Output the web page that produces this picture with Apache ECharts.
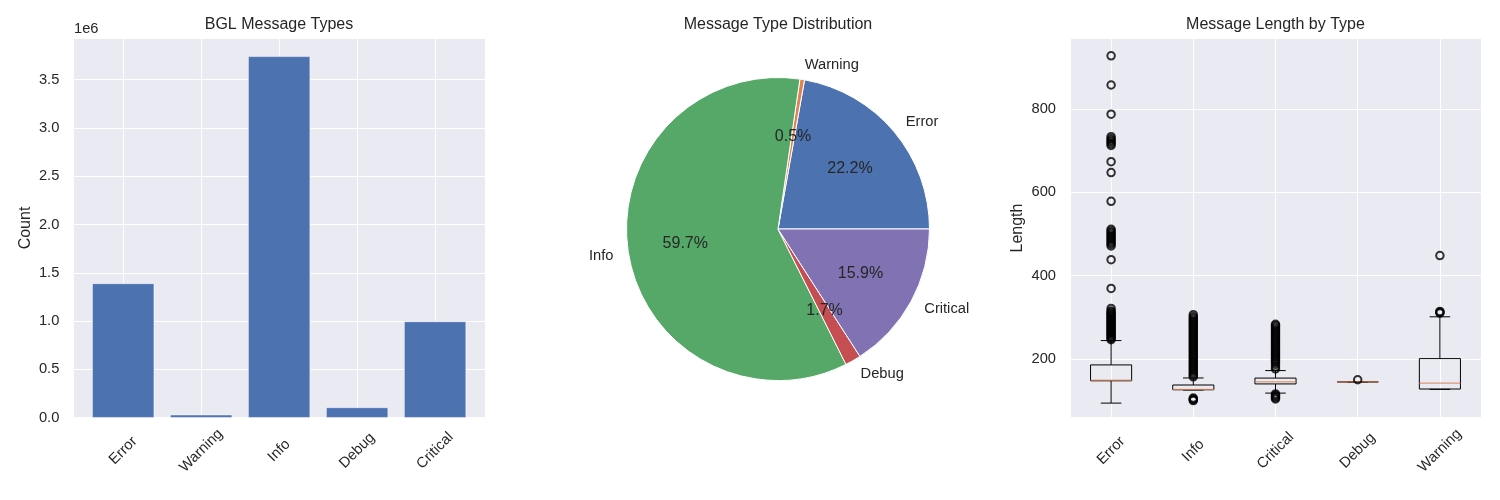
<!DOCTYPE html>
<html>
<head>
<meta charset="utf-8">
<title>BGL message overview</title>
<script src="https://cdn.jsdelivr.net/npm/echarts@6/dist/echarts.min.js"></script>
<style>
  html, body { margin: 0; padding: 0; background: #fff; }
  #chart { width: 1500px; height: 500px; }
</style>
</head>
<body>
<div id="chart"></div>
<script>
// message counts (bar + pie)
var barCats = ["Error", "Warning", "Info", "Debug", "Critical"];
var barCounts = [1390000, 31000, 3740000, 106000, 996000];
var pieColors = ["#4C72B0", "#DD8452", "#55A868", "#C44E52", "#8172B3"];

// message length stats (box plot)
var boxCats = ["Error", "Info", "Critical", "Debug", "Warning"];
var boxMin = [94, 125.4, 118, 145, 127];
var boxQ1 = [147.5, 126, 140, 145, 127.8];
var boxMed = [149, 127, 145, 145, 142];
var boxQ3 = [185.6, 137.4, 154, 145, 200.7];
var boxMax = [244, 154.3, 172, 145, 301];

var errorOutliers = [246, 249, 252, 255, 258, 261, 264, 267, 270, 273, 276, 279, 282, 285, 288, 291, 294, 297, 300, 303, 306, 309, 312, 315, 321, 369, 438, 471, 475, 479, 483, 487, 491, 495, 499, 503, 507, 511, 578, 647, 673, 712, 716, 720, 724, 728, 733, 787, 857, 927];
var infoOutliers = [100, 102, 104, 106, 157, 161, 165, 169, 173, 177, 181, 185, 189, 193, 197, 201, 205, 209, 213, 217, 221, 225, 229, 233, 237, 241, 245, 249, 253, 257, 261, 265, 269, 273, 277, 281, 285, 289, 293, 297, 301, 306];
var criticalOutliers = [104, 107, 110, 113, 116, 176, 181, 187, 192, 196, 200, 204, 208, 212, 216, 220, 224, 228, 232, 236, 240, 244, 248, 252, 256, 260, 264, 268, 272, 276, 280, 283];
var debugOutliers = [150];
var warningOutliers = [310, 312, 314, 448];
var boxOutliers = [errorOutliers, infoOutliers, criticalOutliers, debugOutliers, warningOutliers];

var FONT = "Liberation Sans";
var TXT = "#262626";
var BG = "#EAEAF2";

var myChart = echarts.init(document.getElementById("chart"));

var barData = barCounts.map(function (v, i) { return [i, v]; });
var pieData = barCats.map(function (c, i) {
  return { name: c, value: barCounts[i], itemStyle: { color: pieColors[i] } };
});
// same values, no colour: only carries the percent labels at 0.6 r
var pctData = barCats.map(function (c, i) {
  return { name: c, value: barCounts[i] };
});
var boxData = boxCats.map(function (c, i) {
  return [i + 1, boxMin[i], boxQ1[i], boxMed[i], boxQ3[i], boxMax[i]];
});
var outlierData = [];
boxOutliers.forEach(function (arr, i) {
  arr.forEach(function (v) { outlierData.push([i + 1, v]); });
});

function renderBox(params, api) {
  var x = api.value(0);
  var lo = api.coord([x, api.value(1)]);
  var q1 = api.coord([x, api.value(2)]);
  var med = api.coord([x, api.value(3)]);
  var q3 = api.coord([x, api.value(4)]);
  var hi = api.coord([x, api.value(5)]);
  var unit = api.size([1, 0])[0];
  var hw = unit * 0.25;
  var cw = unit * 0.125;
  var cx = lo[0];
  var ln = { stroke: "#000", lineWidth: 1 };
  return {
    type: "group",
    children: [
      { type: "line", shape: { x1: cx, y1: lo[1], x2: cx, y2: q1[1] }, style: ln },
      { type: "line", shape: { x1: cx, y1: q3[1], x2: cx, y2: hi[1] }, style: ln },
      { type: "line", shape: { x1: cx - cw, y1: lo[1], x2: cx + cw, y2: lo[1] }, style: ln },
      { type: "line", shape: { x1: cx - cw, y1: hi[1], x2: cx + cw, y2: hi[1] }, style: ln },
      { type: "rect", shape: { x: cx - hw, y: q3[1], width: hw * 2, height: q1[1] - q3[1] },
        style: { fill: "none", stroke: "#000", lineWidth: 1 } },
      { type: "line", shape: { x1: cx - hw, y1: med[1], x2: cx + hw, y2: med[1] },
        style: { stroke: "#DD8452", lineWidth: 1 } }
    ]
  };
}

var splitWhite = { show: true, lineStyle: { color: "#fff", width: 1 } };
var tickText = { color: TXT, fontSize: 14.7, fontFamily: FONT };

var option = {
  animation: false,
  textStyle: { fontFamily: FONT, color: TXT },
  graphic: [
    { type: "text", x: 279, y: 25, style: { text: "BGL Message Types", align: "center", verticalAlign: "middle", fontSize: 16, fontFamily: FONT, fill: TXT } },
    { type: "text", x: 74, y: 29, style: { text: "1e6", align: "left", verticalAlign: "middle", fontSize: 14.7, fontFamily: FONT, fill: TXT } },
    { type: "text", x: 778, y: 25, style: { text: "Message Type Distribution", align: "center", verticalAlign: "middle", fontSize: 16, fontFamily: FONT, fill: TXT } },
    { type: "text", x: 1275.5, y: 25, style: { text: "Message Length by Type", align: "center", verticalAlign: "middle", fontSize: 16, fontFamily: FONT, fill: TXT } }
  ],
  grid: [
    { left: 73.3, top: 38.3, width: 411.7, height: 379.4, show: true, backgroundColor: BG, borderWidth: 0 },
    { left: 1070, top: 38.3, width: 411, height: 379.4, show: true, backgroundColor: BG, borderWidth: 0 }
  ],
  xAxis: [
    {
      gridIndex: 0, type: "value", min: -0.64, max: 4.64, splitNumber: 5,
      axisLine: { show: false }, axisTick: { show: false }, splitLine: splitWhite,
      axisLabel: Object.assign({
        rotate: 45, align: "center", verticalAlign: "middle", margin: 33,
        formatter: function (v) { return Number.isInteger(v) ? barCats[v] : ""; }
      }, tickText)
    },
    {
      gridIndex: 1, type: "value", min: 0.5, max: 5.5, splitNumber: 5,
      axisLine: { show: false }, axisTick: { show: false }, splitLine: splitWhite,
      axisLabel: Object.assign({
        rotate: 45, align: "center", verticalAlign: "middle", margin: 33,
        formatter: function (v) { return Number.isInteger(v) ? boxCats[v - 1] : ""; }
      }, tickText)
    }
  ],
  yAxis: [
    {
      gridIndex: 0, type: "value", min: 0, max: 3927000, interval: 500000,
      name: "Count", nameLocation: "middle", nameGap: 40,
      nameTextStyle: { fontSize: 16, color: TXT, fontFamily: FONT },
      axisLine: { show: false }, axisTick: { show: false }, splitLine: splitWhite,
      axisLabel: Object.assign({
        margin: 14,
        formatter: function (v) { return v % 500000 === 0 ? (v / 1e6).toFixed(1) : ""; }
      }, tickText)
    },
    {
      gridIndex: 1, type: "value", min: 59, max: 969, splitNumber: 5,
      name: "Length", nameLocation: "middle", nameGap: 44,
      nameTextStyle: { fontSize: 16, color: TXT, fontFamily: FONT },
      axisLine: { show: false }, axisTick: { show: false }, splitLine: splitWhite,
      axisLabel: Object.assign({
        margin: 14,
        formatter: function (v) { return v % 200 === 0 ? String(v) : ""; }
      }, tickText)
    }
  ],
  series: [
    {
      type: "bar", xAxisIndex: 0, yAxisIndex: 0, data: barData, barWidth: 62,
      itemStyle: { color: "#4C72B0", borderColor: "#fff", borderWidth: 0.5 }
    },
    {
      type: "pie", center: [778, 229], radius: 151.5, startAngle: 0, clockwise: false,
      avoidLabelOverlap: false, data: pieData,
      itemStyle: { borderColor: "#fff", borderWidth: 1 },
      label: { position: "outside", formatter: "{b}", fontSize: 14.7, color: TXT, fontFamily: FONT, distanceToLabelLine: 0 },
      labelLine: { show: false, length: 15.15, length2: 0 },
      emphasis: { disabled: true }
    },
    {
      type: "pie", center: [778, 229], radius: 181.8, startAngle: 0, clockwise: false,
      avoidLabelOverlap: false, silent: true, percentPrecision: 1, data: pctData,
      itemStyle: { color: "rgba(0,0,0,0)", borderWidth: 0 },
      label: { position: "inside", formatter: "{d}%", fontSize: 16, color: TXT, fontFamily: FONT },
      labelLine: { show: false },
      emphasis: { disabled: true }
    },
    {
      type: "custom", xAxisIndex: 1, yAxisIndex: 1, data: boxData, renderItem: renderBox,
      encode: { x: 0, y: [1, 2, 3, 4, 5] }
    },
    {
      type: "scatter", xAxisIndex: 1, yAxisIndex: 1, data: outlierData,
      symbol: "circle", symbolSize: 7.5,
      itemStyle: { color: "rgba(0,0,0,0)", borderColor: "#000", borderWidth: 2 }
    }
  ]
};

myChart.setOption(option);
</script>
</body>
</html>
